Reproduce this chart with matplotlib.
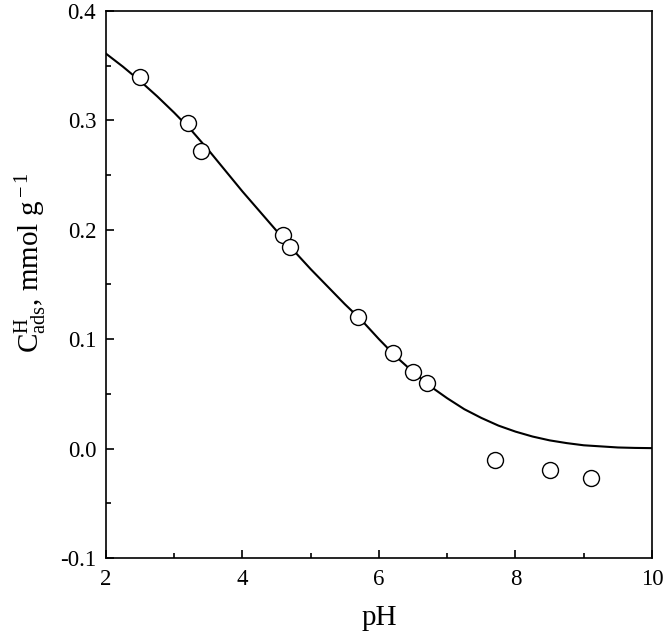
import matplotlib
matplotlib.use('Agg')
import matplotlib.pyplot as plt
from matplotlib.ticker import MultipleLocator, FormatStrFormatter

plt.rcParams['font.family'] = ['Liberation Serif', 'DejaVu Serif']
plt.rcParams['mathtext.fontset'] = 'custom'
plt.rcParams['mathtext.rm'] = 'Liberation Serif'
plt.rcParams['mathtext.it'] = 'Liberation Serif:italic'
plt.rcParams['axes.unicode_minus'] = False

# measured points
ph_pts = [2.5, 3.2, 3.4, 4.6, 4.7, 5.7, 6.2, 6.5, 6.7, 7.7, 8.5, 9.1]
c_pts = [0.340, 0.298, 0.272, 0.195, 0.184, 0.120, 0.087, 0.070, 0.060, -0.010, -0.020, -0.027]

# model curve
ph_fit = [2.00, 2.25, 2.50, 2.75, 3.00, 3.25, 3.50, 3.75, 4.00, 4.25, 4.50, 4.75,
          5.00, 5.25, 5.50, 5.75, 6.00, 6.25, 6.50, 6.75, 7.00, 7.25, 7.50, 7.75,
          8.00, 8.25, 8.50, 8.75, 9.00, 9.25, 9.50, 9.75, 10.00]
c_fit = [0.361, 0.349, 0.336, 0.322, 0.307, 0.291, 0.273, 0.254, 0.235, 0.217, 0.199, 0.181,
         0.164, 0.148, 0.132, 0.117, 0.100, 0.084, 0.070, 0.057, 0.046, 0.036, 0.028, 0.021,
         0.0155, 0.011, 0.0075, 0.005, 0.003, 0.002, 0.001, 0.0006, 0.0004]

fig = plt.figure(figsize=(6.66, 6.41), dpi=100)
ax = fig.add_axes([0.159, 0.1295, 0.820, 0.8535])

ax.plot(ph_fit, c_fit, color='black', lw=1.5, zorder=2)
ax.plot(ph_pts, c_pts, 'o', ms=11.5, mfc='white', mec='black', mew=1.0, zorder=3)

ax.set_xlim(2, 10)
ax.set_ylim(-0.1, 0.4)
ax.xaxis.set_major_locator(MultipleLocator(2))
ax.xaxis.set_minor_locator(MultipleLocator(1))
ax.yaxis.set_major_locator(MultipleLocator(0.1))
ax.yaxis.set_minor_locator(MultipleLocator(0.05))
ax.yaxis.set_major_formatter(FormatStrFormatter('%.1f'))

ax.tick_params(which='both', direction='in', top=False, right=False, width=1.2)
ax.tick_params(which='major', length=6, labelsize=16.5, pad=7)
ax.tick_params(which='minor', length=3.5)
ax.tick_params(axis='x', which='major', pad=8)
for s in ax.spines.values():
    s.set_linewidth(1.2)

ax.set_xlabel('pH', fontsize=21, labelpad=11)
ax.set_ylabel(r'C$^{\rm H}_{\rm ads}$, mmol g$^{\rm -1}$', fontsize=21)
ax.yaxis.set_label_coords(-0.105, 0.54)

fig.savefig('out.png', dpi=100)
